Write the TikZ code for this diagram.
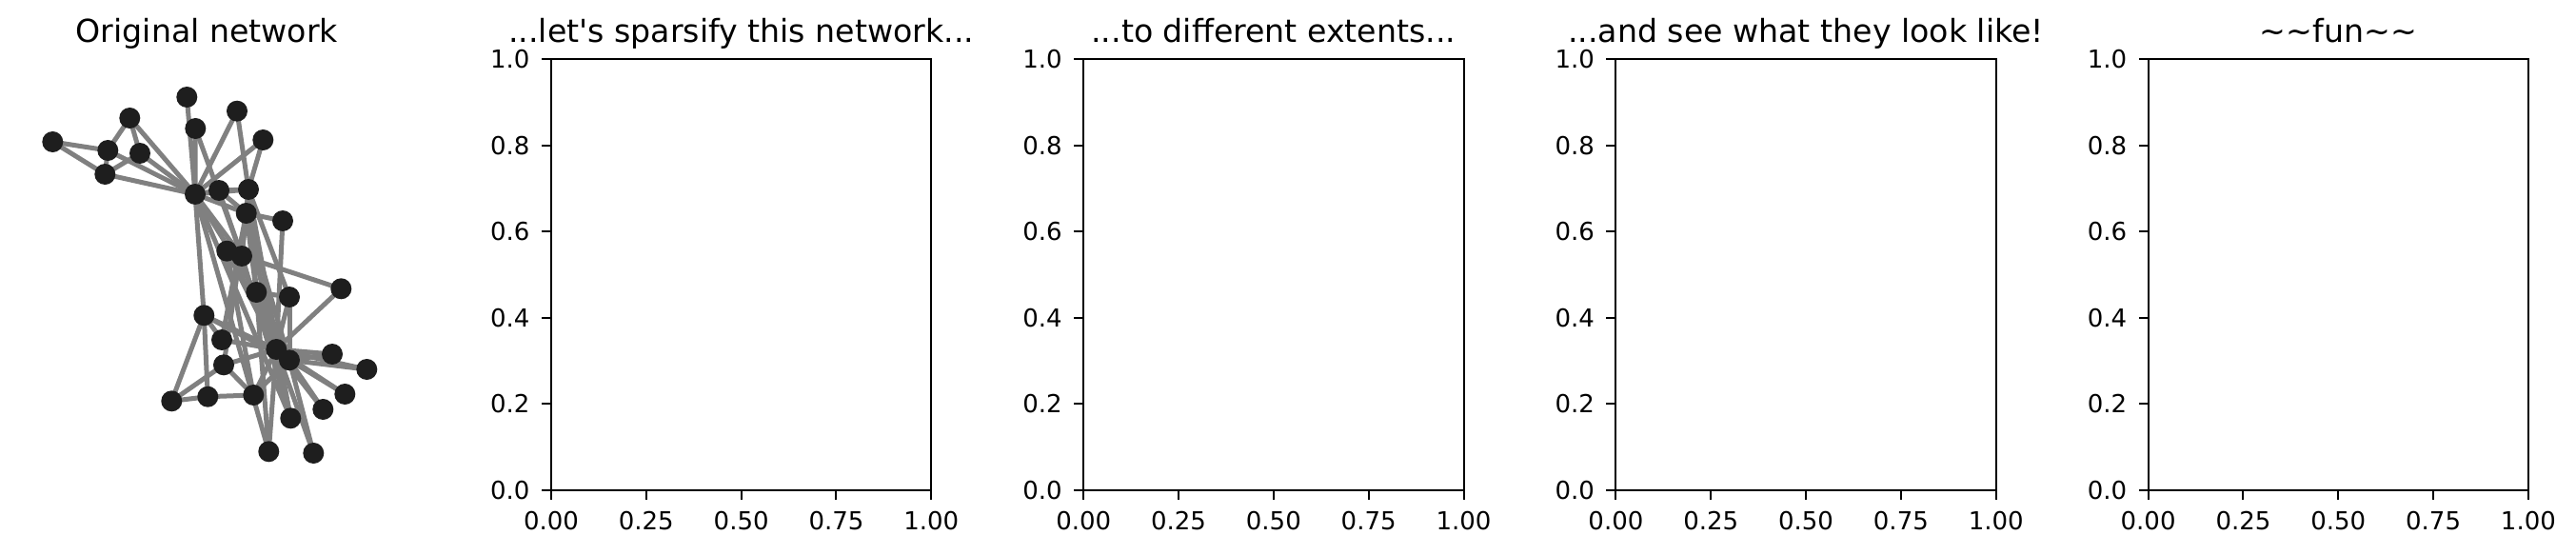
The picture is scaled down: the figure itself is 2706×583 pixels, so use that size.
\documentclass[tikz,border=0pt]{standalone}
\usepackage{fontspec}
\setmainfont{DejaVu Sans}
\usetikzlibrary{backgrounds}
\definecolor{nodecol}{RGB}{30,30,30}
\definecolor{edgecol}{RGB}{128,128,128}
\begin{document}
\begin{tikzpicture}[x=1pt,y=-1pt,
  vtx/.style={circle,fill=nodecol,draw=none,minimum size=22pt,inner sep=0pt},
  edge/.style={draw=edgecol,line width=5pt},
  spine/.style={line width=2pt,draw=black},
  ticklab/.style={inner sep=0pt,font=\fontsize{26}{30}\selectfont},
  titlelab/.style={inner sep=0pt,anchor=base,font=\fontsize{33.2}{40}\selectfont}]
\useasboundingbox (0,0) rectangle (2706,583);
% ---------- network ----------
\foreach \i/\x/\y in {0/205/204,1/261/199,2/258.7/224,3/254/269,4/136.3/124,5/110.3/183,
  6/113.3/158,7/230/200,8/269.3/307,9/297/232,10/147/161,11/196.3/102,12/205.3/135,
  13/305.3/439.3,14/349/372,15/385.3/388,16/55.3/149,17/249/116.7,18/362.3/414,
  19/282.3/474.3,20/339.3/430,21/276.3/147,22/329.3/476,23/266.3/415,24/180.3/421.3,
  25/218.3/416.7,26/358.3/303.3,27/235/383.3,28/233/357,29/238.3/263.7,30/304/312,
  31/214.3/331.3,32/304/378.3,33/290.3/367}
  \node[vtx] (n\i) at (\x,\y) {};
\begin{scope}[on background layer]
\foreach \a/\b in {0/1,0/2,0/3,0/4,0/5,0/6,0/7,0/8,0/10,0/11,0/12,0/13,0/17,0/19,0/21,0/31,
  1/2,1/3,1/7,1/13,1/17,1/19,1/21,1/30,
  2/3,2/7,2/8,2/9,2/13,2/27,2/28,2/32,
  3/7,3/12,3/13,4/6,4/10,5/6,5/10,5/16,6/16,
  8/30,8/32,8/33,9/33,13/33,14/32,14/33,15/32,15/33,18/32,18/33,19/33,20/32,20/33,
  22/32,22/33,23/25,23/27,23/29,23/32,23/33,24/25,24/27,24/31,25/31,26/29,26/33,
  27/33,28/31,28/33,29/32,29/33,30/32,30/33,31/32,31/33,32/33}
  \draw[edge] (n\a.center) -- (n\b.center);
\end{scope}
\node[titlelab] (t0) at (217.5,45) {Original network};
% ---------- empty axes ----------
\foreach \i/\ttl in {1/{...let\textquotesingle s sparsify this network...},
  2/{...to different extents...},3/{...and see what they look like!},
  4/{\textasciitilde\textasciitilde fun\textasciitilde\textasciitilde}}{
  \pgfmathsetmacro\L{579+559.2*(\i-1)}
  \pgfmathsetmacro\R{\L+399.3}
  \pgfmathsetmacro\C{\L+199.65}
  \draw[spine] (\L,62.3) rectangle (\R,515);
  \node[titlelab] (t\i) at (\C,45) {\ttl};
  \foreach \k/\lab in {0/0.0,1/0.2,2/0.4,3/0.6,4/0.8,5/1.0}{
    \pgfmathsetmacro\yy{515-90.54*\k}
    \draw[spine] (\L,\yy) -- (\L-10,\yy);
    \node[ticklab,anchor=east] (yl\i\k) at (\L-22.3,\yy) {\lab};
  }
  \foreach \k/\lab in {0/0.00,1/0.25,2/0.50,3/0.75,4/1.00}{
    \pgfmathsetmacro\xx{\L+99.825*\k}
    \draw[spine] (\xx,515) -- (\xx,525);
    \node[ticklab,anchor=north] (xl\i\k) at (\xx,536.7) {\lab};
  }
}
\end{tikzpicture}
\end{document}
